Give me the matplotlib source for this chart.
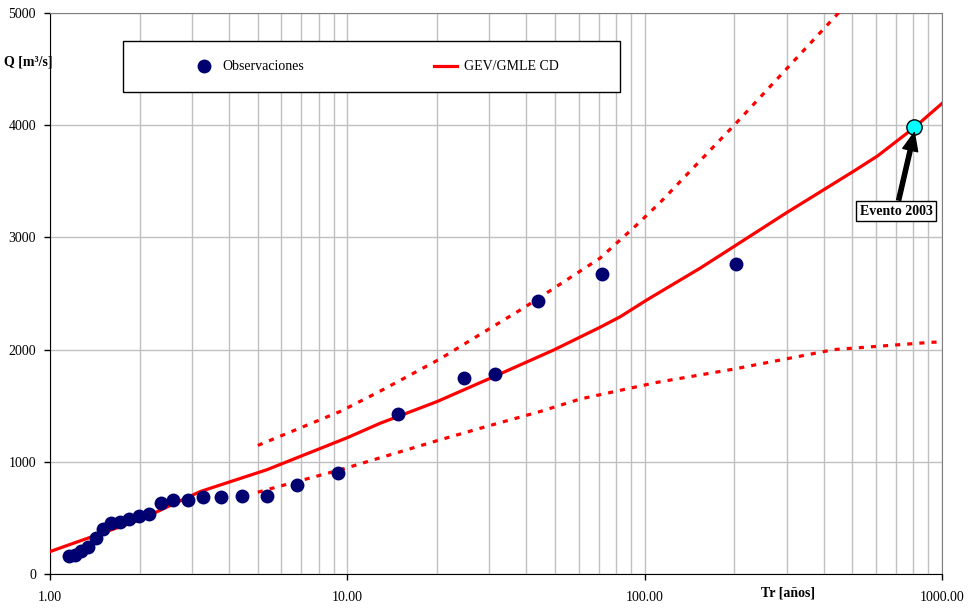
import numpy as np
import matplotlib
matplotlib.use('Agg')
import matplotlib.pyplot as plt
from matplotlib.patches import Rectangle
from matplotlib.ticker import FixedLocator, LogLocator, NullFormatter, FuncFormatter

plt.rcParams['font.family'] = ['Liberation Serif', 'DejaVu Serif']

# observaciones (Tr [años], Q [m3/s])
tr_obs = [1.16, 1.21, 1.27, 1.34, 1.43, 1.51, 1.61, 1.72, 1.84, 1.99, 2.15, 2.36,
          2.59, 2.92, 3.28, 3.76, 4.42, 5.37, 6.78, 9.32, 14.8, 24.6, 31.5, 43.8,
          71.9, 203.0]
q_obs = [161, 170, 205, 241, 321, 402, 455, 464, 491, 518, 536, 634,
         661, 661, 688, 688, 696, 696, 795, 902, 1429, 1750, 1786, 2437,
         2670, 2759]

# ajuste GEV/GMLE CD
tr_gev = [1.0, 1.47, 2.0, 3.2, 5.36, 10.0, 12.88, 20.0, 30.2, 49.4, 70.8, 82.9,
          101.6, 153.5, 200.0, 300.0, 370.0, 506.0, 607.0, 807.0, 1000.0]
q_gev = [200, 357, 482, 735, 929, 1215, 1343, 1536, 1744, 1996, 2199, 2294,
         2442, 2725, 2920, 3220, 3369, 3592, 3726, 3979, 4194]

# limites de confianza
tr_sup = [5.0, 9.47, 12.86, 20.5, 27.9, 39.2, 70.8, 94.0, 112.6, 204.0, 456.0, 520.0]
q_sup = [1146, 1449, 1628, 1917, 2134, 2372, 2815, 3111, 3310, 4024, 5021, 5250]
tr_inf = [5.0, 9.47, 20.5, 27.9, 44.6, 60.8, 110.0, 153.5, 200.0, 433.0, 918.0, 1000.0]
q_inf = [729, 929, 1196, 1298, 1449, 1560, 1708, 1774, 1827, 2000, 2065, 2068]

# evento 2003
tr_ev = 807.0
q_ev = 3980

fig = plt.figure(figsize=(9.74, 6.08), dpi=100)
ax = fig.add_axes([50/974, 34/608, 892/974, 561/608])

ax.plot(tr_gev, q_gev, '-', color='#ff0000', linewidth=2.3, label='GEV/GMLE CD', zorder=3)
ax.plot(tr_sup, q_sup, color='#ff0000', linewidth=2.3, dashes=(1.6, 2.2), zorder=3)
ax.plot(tr_inf, q_inf, color='#ff0000', linewidth=2.3, dashes=(1.6, 2.2), zorder=3)
ax.plot(tr_obs, q_obs, 'o', color='#000070', markersize=10, markeredgewidth=0,
        label='Observaciones', zorder=4)
ax.plot([tr_ev], [q_ev], 'o', color='#00ffff', markersize=11, markeredgecolor='black',
        markeredgewidth=1, zorder=5)

# flecha y etiqueta del evento
ax.annotate('', xy=(tr_ev, 3935), xytext=(715, 3333),
            arrowprops=dict(facecolor='black', edgecolor='black', width=3,
                            headwidth=11, headlength=13, shrink=0), zorder=6)
ax.text(700, 3235, 'Evento 2003', fontsize=10, fontweight='bold', ha='center',
        va='center', zorder=7,
        bbox=dict(boxstyle='square,pad=0.25', fc='white', ec='black', lw=1))

ax.set_xscale('log')
ax.set_xlim(1, 1000)
ax.set_ylim(0, 5000)
ax.xaxis.set_major_locator(FixedLocator([1, 10, 100, 1000]))
ax.xaxis.set_major_formatter(FuncFormatter(lambda v, p: '%.2f' % v))
ax.xaxis.set_minor_locator(LogLocator(base=10, subs=np.arange(2, 10)))
ax.xaxis.set_minor_formatter(NullFormatter())
ax.set_yticks([0, 1000, 2000, 3000, 4000, 5000])

ax.grid(True, which='both', axis='x', color='#c0c0c0', linewidth=1)
ax.grid(True, which='major', axis='y', color='#c0c0c0', linewidth=1)
ax.set_axisbelow(True)
ax.tick_params(which='major', direction='out', length=4, width=1, labelsize=10, pad=8)
ax.tick_params(which='minor', length=0)
ax.tick_params(axis='y', pad=6)

ax.spines['left'].set_color('black')
ax.spines['bottom'].set_color('black')
ax.spines['top'].set_color('#808080')
ax.spines['right'].set_color('#808080')

fig.text(4/974, 1 - 62/608, 'Q [m³/s]', fontsize=10, fontweight='bold',
         ha='left', va='center')
fig.text(788/974, 1 - 593/608, 'Tr [años]', fontsize=10, fontweight='bold',
         ha='center', va='center')

# cuadro de leyenda
ax.add_patch(Rectangle((73/892, 482/561), 497/892, 51/561, transform=ax.transAxes,
                       fc='white', ec='black', lw=1, zorder=8))
h, l = ax.get_legend_handles_labels()
leg = ax.legend(h[::-1], l[::-1], ncol=2, fontsize=10, frameon=False,
                bbox_to_anchor=(143/892, 507/561), loc='center left',
                borderaxespad=0, borderpad=0, handlelength=1.6, handletextpad=0.5,
                columnspacing=9.4)
leg.set_zorder(9)

fig.savefig('out.png', dpi=100)
